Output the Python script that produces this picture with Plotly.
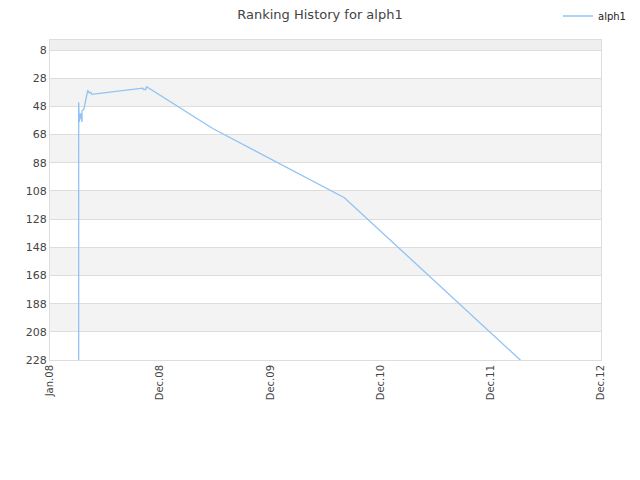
import plotly.graph_objects as go

dates = ["2008-04-05", "2008-04-05", "2008-04-07", "2008-04-11", "2008-04-16", "2008-04-16",
         "2008-04-22", "2008-04-25", "2008-04-29", "2008-05-04", "2008-05-05", "2008-05-10",
         "2008-05-15", "2008-05-18", "2008-07-17", "2008-11-03", "2008-11-06", "2008-11-13",
         "2008-11-16", "2009-06-23", "2010-09-02", "2012-04-14"]
ranks = [250, 45, 59, 53, 59, 51,
         50, 47, 42, 37, 36.6, 38.4,
         38, 39.4, 38, 35, 36, 36,
         34, 63.7, 112.8, 229.5]

tick_dates = ["2008-01-01", "2008-12-31", "2009-12-31", "2010-12-31", "2011-12-31", "2012-12-30"]
tick_labels = ["Jan.08", "Dec.08", "Dec.09", "Dec.10", "Dec.11", "Dec.12"]
y_ticks = [8, 28, 48, 68, 88, 108, 128, 148, 168, 188, 208, 228]
bands = [(28, 48), (68, 88), (108, 128), (148, 168), (188, 208)]

fig = go.Figure()
fig.add_trace(go.Scatter(x=dates, y=ranks, mode="lines", name="alph1",
                         line=dict(color="rgb(144,195,245)", width=1.3)))

shapes = []
for y0, y1 in bands:
    shapes.append(dict(type="rect", xref="paper", yref="y", x0=0, x1=1, y0=y0, y1=y1,
                       fillcolor="#f3f3f3", line_width=0, layer="below"))
shapes.append(dict(type="rect", xref="paper", yref="y", x0=0, x1=1, y0=0.86, y1=8,
                   fillcolor="#efefef", line_width=0, layer="below"))

fig.update_layout(
    width=640, height=480,
    margin=dict(l=42, r=47, t=32, b=128, autoexpand=False),
    paper_bgcolor="white", plot_bgcolor="white",
    font=dict(family="DejaVu Sans", color="#444"),
    title=dict(text="Ranking History for alph1", x=312 / 640, xanchor="center", y=1 - 6 / 480,
               yanchor="middle", xref="container", yref="container",
               font=dict(size=13, color="#444")),
    showlegend=True,
    legend=dict(x=550 / 640, xanchor="left", y=1 - 8 / 480, yanchor="middle",
                xref="container", yref="container", itemwidth=30,
                font=dict(size=10, color="#222"), bgcolor="rgba(0,0,0,0)"),
    shapes=shapes,
    xaxis=dict(type="date", range=["2008-01-01", "2012-12-30"], tickvals=tick_dates,
               ticktext=tick_labels, tickangle=-90, showgrid=False, zeroline=False,
               showline=True, linecolor="#ddd", mirror=True, ticks="",
               tickfont=dict(size=10, color="#444")),
    yaxis=dict(range=[228, 0.86], tickvals=y_ticks, showgrid=True, gridcolor="#ddd",
               zeroline=False, showline=True, linecolor="#ddd", mirror=True, ticks="",
               tickfont=dict(size=11, color="#444")),
)
fig.write_html("out.html")
